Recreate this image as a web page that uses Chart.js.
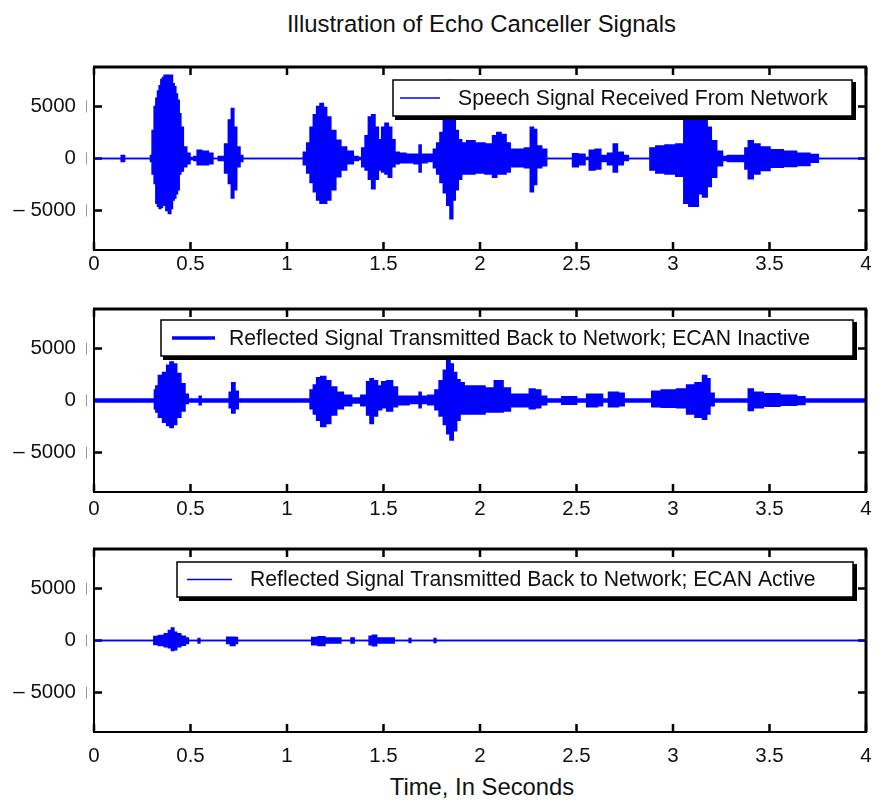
<!DOCTYPE html>
<html>
<head>
<meta charset="utf-8">
<script src="https://cdn.jsdelivr.net/npm/chart.js"></script>
<style>
  body { margin: 0; background: #fff; width: 882px; height: 804px; position: relative; overflow: hidden; font-family: "Liberation Sans", Arial, sans-serif; color: #111; }
  .panel { position: absolute; left: 0; width: 882px; height: 225px; }
  #title { position: absolute; top: 12px; left: 0; width: 963px; text-align: center; font-size: 23.9px; line-height: 23px; }
  #xlabel { position: absolute; top: 775px; left: 0; width: 964px; text-align: center; font-size: 23.8px; line-height: 23px; }
</style>
</head>
<body>
<div id="title">Illustration of Echo Canceller Signals</div>
<div class="panel" style="top:57px"><canvas id="c1" width="882" height="225"></canvas></div>
<div class="panel" style="top:299px"><canvas id="c2" width="882" height="225"></canvas></div>
<div class="panel" style="top:539px"><canvas id="c3" width="882" height="225"></canvas></div>
<div id="xlabel">Time, In Seconds</div>
<script>
const BLUE = "#0000ff";
const yTicks = [-5000, 0, 5000];

// speech signal received from network (envelope, seconds / amplitude)
const times1 = [0, 0.13, 0.152, 0.165, 0.29, 0.295, 0.307, 0.316, 0.325, 0.333, 0.342, 0.351, 0.359, 0.368, 0.377, 0.394, 0.402, 0.411, 0.42, 0.428, 0.437, 0.446, 0.454, 0.472, 0.489, 0.506, 0.528, 0.541, 0.575, 0.61, 0.622, 0.666, 0.687, 0.705, 0.718, 0.731, 0.748, 0.765, 0.777, 1.076, 1.093, 1.111, 1.128, 1.145, 1.162, 1.18, 1.197, 1.214, 1.24, 1.266, 1.292, 1.326, 1.361, 1.378, 1.396, 1.413, 1.43, 1.447, 1.465, 1.482, 1.499, 1.516, 1.534, 1.551, 1.568, 1.594, 1.637, 1.68, 1.689, 1.701, 1.75, 1.767, 1.784, 1.801, 1.819, 1.836, 1.853, 1.865, 1.879, 1.896, 1.914, 1.948, 2.0, 2.052, 2.078, 2.096, 2.122, 2.148, 2.165, 2.209, 2.252, 2.269, 2.285, 2.302, 2.337, 2.354, 2.475, 2.484, 2.535, 2.553, 2.579, 2.613, 2.639, 2.682, 2.699, 2.725, 2.76, 2.777, 2.872, 2.889, 2.933, 2.984, 3.045, 3.067, 3.097, 3.122, 3.14, 3.166, 3.188, 3.209, 3.244, 3.269, 3.295, 3.364, 3.381, 3.399, 3.433, 3.468, 3.537, 3.606, 3.675, 3.744, 3.762, 4];
const upper1 = [0, 0, 300, 0, 0, 300, 2700, 5000, 5800, 6500, 7000, 7600, 7800, 8000, 8000, 8000, 8000, 7200, 6900, 6200, 5600, 4300, 3000, 1100, 500, 100, 200, 800, 700, 500, 0, 200, 1400, 3700, 4800, 3000, 1100, 300, 0, 0, 600, 1500, 3000, 4200, 5000, 5300, 4900, 4000, 2700, 1760, 1100, 700, 200, 100, 1000, 2200, 4000, 4200, 3000, 1800, 3000, 3400, 3000, 1800, 600, 500, 400, 400, 1300, 400, 400, 900, 1500, 2500, 4500, 7500, 7500, 5000, 2700, 1800, 1500, 1700, 1500, 1400, 2200, 2500, 2300, 1500, 900, 900, 1000, 3000, 2800, 1200, 900, 0, 0, 450, 400, 100, 800, 900, 300, 500, 1400, 600, 300, 0, 0, 1000, 1200, 1300, 1400, 6000, 6500, 6000, 5000, 5500, 3000, 1700, 700, 200, 300, 300, 1000, 1700, 1400, 1100, 830, 700, 500, 380, 0, 0];
const lower1 = [0, 0, -300, 0, 0, -300, -1500, -2400, -4300, -4600, -4800, -4700, -4300, -4500, -5000, -5300, -4800, -4000, -3800, -3400, -3000, -1500, -1200, -800, -500, -100, -200, -600, -600, -500, 0, -200, -1400, -2400, -3800, -3000, -800, -300, 0, 0, -600, -1400, -2300, -3200, -4000, -4300, -4300, -4000, -3000, -1760, -1100, -500, -200, -100, -800, -1100, -2000, -2900, -2000, -1100, -1300, -1500, -1800, -800, -500, -400, -400, -500, -1300, -400, -300, -900, -1500, -2300, -3300, -4500, -5800, -4000, -3000, -2000, -1500, -1500, -1400, -1500, -1800, -1500, -1500, -1300, -800, -800, -900, -3200, -2500, -900, -700, 0, 0, -800, -600, -100, -1100, -1000, -300, -600, -1300, -600, -200, 0, 0, -1100, -1400, -1500, -1700, -4300, -4600, -4600, -3400, -3700, -2700, -1800, -700, -200, -300, -300, -1000, -1950, -1500, -1150, -830, -770, -670, -350, 0, 0];

// reflected signal, echo canceller inactive
const times2 = [0, 0.31, 0.316, 0.325, 0.342, 0.368, 0.385, 0.402, 0.42, 0.437, 0.463, 0.48, 0.497, 0.54, 0.55, 0.56, 0.696, 0.705, 0.722, 0.739, 0.756, 1.111, 1.128, 1.145, 1.162, 1.188, 1.214, 1.24, 1.275, 1.309, 1.361, 1.404, 1.421, 1.439, 1.456, 1.482, 1.499, 1.534, 1.56, 1.585, 1.68, 1.689, 1.701, 1.758, 1.775, 1.801, 1.819, 1.836, 1.853, 1.87, 1.888, 1.905, 1.931, 2.0, 2.052, 2.096, 2.143, 2.172, 2.242, 2.269, 2.302, 2.328, 2.363, 2.484, 2.518, 2.587, 2.631, 2.639, 2.692, 2.743, 2.751, 2.886, 2.894, 2.984, 3.053, 3.088, 3.14, 3.166, 3.183, 3.2, 3.226, 3.381, 3.399, 3.433, 3.502, 3.606, 3.675, 3.692, 4];
const upper2 = [150, 150, 1000, 1400, 2400, 2700, 3400, 3700, 3500, 2600, 1600, 600, 150, 150, 400, 150, 150, 800, 1700, 900, 150, 150, 1000, 1500, 2200, 2300, 1900, 1300, 800, 500, 250, 500, 1800, 2100, 1900, 1400, 1800, 1900, 1300, 400, 400, 800, 400, 500, 1000, 1900, 2900, 3900, 3500, 2700, 2000, 1700, 1400, 1400, 1200, 1900, 1200, 600, 600, 1100, 1000, 400, 150, 350, 150, 600, 600, 150, 800, 700, 150, 150, 900, 1000, 1100, 1500, 1700, 2400, 2100, 700, 150, 150, 1100, 800, 650, 500, 350, 150, 150];
const lower2 = [-150, -150, -800, -1100, -1600, -2100, -2400, -2600, -2300, -1600, -1000, -300, -150, -150, -400, -150, -150, -700, -1200, -800, -150, -150, -800, -1300, -1900, -2500, -2200, -1400, -800, -500, -250, -500, -1400, -2200, -1500, -900, -700, -1000, -600, -400, -300, -700, -300, -400, -900, -1500, -2300, -3200, -3800, -2900, -1900, -1300, -1300, -1300, -1100, -1100, -1000, -600, -600, -800, -700, -400, -150, -350, -150, -600, -500, -150, -600, -500, -150, -150, -600, -650, -700, -1300, -1600, -1800, -1300, -500, -150, -150, -950, -700, -550, -450, -380, -150, -150];

// reflected signal, echo canceller active
const times3 = [0, 0.304, 0.316, 0.351, 0.377, 0.394, 0.408, 0.42, 0.437, 0.463, 0.484, 0.494, 0.535, 0.544, 0.553, 0.684, 0.691, 0.722, 0.739, 0.748, 1.123, 1.133, 1.188, 1.205, 1.275, 1.283, 1.323, 1.34, 1.356, 1.421, 1.43, 1.456, 1.473, 1.551, 1.56, 1.629, 1.637, 1.646, 1.758, 1.767, 1.775, 4];
const upper3 = [0, 0, 380, 480, 640, 960, 1200, 800, 640, 400, 250, 0, 0, 200, 0, 0, 320, 320, 300, 0, 0, 300, 350, 250, 250, 0, 0, 250, 0, 0, 400, 500, 250, 250, 0, 0, 200, 0, 0, 200, 0, 0];
const lower3 = [0, 0, -380, -480, -600, -700, -960, -900, -600, -450, -300, 0, 0, -250, 0, 0, -300, -480, -300, 0, 0, -400, -480, -250, -250, 0, 0, -250, 0, 0, -400, -500, -250, -250, 0, 0, -200, 0, 0, -200, 0, 0];

const labels = [
  "Speech Signal Received From Network",
  "Reflected Signal Transmitted Back to Network; ECAN Inactive",
  "Reflected Signal Transmitted Back to Network; ECAN Active"
];

// legend boxes in canvas pixels
const legendBoxes = [
  { x0: 393, y0: 23, x1: 852, y1: 59, l0: 400, l1: 440, lw: 1.5, tx: 458 },
  { x0: 161, y0: 21, x1: 853, y1: 57, l0: 172, l1: 215, lw: 3.5, tx: 229 },
  { x0: 177, y0: 23, x1: 853, y1: 58, l0: 187, l1: 232, lw: 1.5, tx: 250 }
];
const xPads = [2, 5, 12];

const tickFont = { family: "Liberation Sans", size: 20.5 };

const frame = {
  id: "frame",
  beforeDatasetsDraw(chart) {
    const { ctx, chartArea: a, scales } = chart;
    ctx.save();
    ctx.strokeStyle = "#000";
    ctx.lineWidth = 2.5;
    ctx.beginPath();
    scales.x.ticks.forEach(t => {
      const px = scales.x.getPixelForValue(t.value);
      ctx.moveTo(px, a.bottom); ctx.lineTo(px, a.bottom - 8);
      ctx.moveTo(px, a.top); ctx.lineTo(px, a.top + 8);
    });
    scales.y.ticks.forEach(t => {
      const py = scales.y.getPixelForValue(t.value);
      ctx.moveTo(a.left, py); ctx.lineTo(a.left + 8, py);
      ctx.moveTo(a.right, py); ctx.lineTo(a.right - 8, py);
    });
    ctx.stroke();
    // light marks next to the y labels
    ctx.strokeStyle = "#999";
    ctx.lineWidth = 1;
    ctx.beginPath();
    scales.y.ticks.forEach(t => {
      const py = scales.y.getPixelForValue(t.value);
      ctx.moveTo(86.5, py - 6); ctx.lineTo(86.5, py + 6);
    });
    ctx.stroke();
    ctx.restore();
  },
  afterDatasetsDraw(chart, args, opts) {
    const { ctx, chartArea: a } = chart;
    ctx.save();
    ctx.strokeStyle = "#000";
    ctx.lineWidth = 2;
    ctx.strokeRect(a.left, a.top, a.right - a.left, a.bottom - a.top);
    ctx.lineWidth = 3;
    ctx.beginPath();
    ctx.moveTo(a.left - 1, a.top); ctx.lineTo(a.right + 1, a.top);
    ctx.moveTo(a.right, a.top); ctx.lineTo(a.right, a.bottom);
    ctx.stroke();

    const b = opts.box;
    ctx.fillStyle = "#000";
    ctx.fillRect(b.x0 + 2, b.y0 + 2, b.x1 - b.x0 + 2, b.y1 - b.y0 + 2);
    ctx.fillStyle = "#fff";
    ctx.fillRect(b.x0, b.y0, b.x1 - b.x0, b.y1 - b.y0);
    ctx.lineWidth = 1.5;
    ctx.strokeRect(b.x0, b.y0, b.x1 - b.x0, b.y1 - b.y0);
    const cy = (b.y0 + b.y1) / 2;
    ctx.strokeStyle = BLUE;
    ctx.lineWidth = b.lw;
    ctx.beginPath();
    ctx.moveTo(b.l0, cy); ctx.lineTo(b.l1, cy);
    ctx.stroke();
    ctx.fillStyle = "#111";
    ctx.font = "21.2px 'Liberation Sans'";
    ctx.textBaseline = "middle";
    ctx.fillText(chart.data.datasets[0].label, b.tx, cy + 1);
    ctx.restore();
  }
};

function makeChart(id, label, times, upper, lower, box, xPad) {
  const up = times.map((t, i) => ({ x: t, y: upper[i] }));
  const lo = times.map((t, i) => ({ x: t, y: lower[i] }));
  return new Chart(document.getElementById(id).getContext("2d"), {
    type: "line",
    data: {
      datasets: [
        { label: label, data: up, borderColor: BLUE, backgroundColor: BLUE, borderWidth: 1.5, pointRadius: 0, stepped: "middle", fill: "+1" },
        { label: "lower", data: lo, borderColor: BLUE, borderWidth: 1.5, pointRadius: 0, stepped: "middle", fill: false }
      ]
    },
    options: {
      responsive: false,
      animation: false,
      layout: { padding: { top: 10, right: 16, left: 0, bottom: 0 } },
      plugins: { legend: { display: false }, tooltip: { enabled: false }, frame: { box: box } },
      scales: {
        x: {
          type: "linear", min: 0, max: 4,
          ticks: { stepSize: 0.5, font: tickFont, color: "#111", padding: xPad, maxRotation: 0, callback: v => String(+v) },
          grid: { display: false, drawTicks: false },
          border: { display: false },
          afterFit(s) { s.height = 32; s.paddingLeft = 0; s.paddingRight = 0; }
        },
        y: {
          min: -8800, max: 8800,
          afterBuildTicks(s) { s.ticks = yTicks.map(v => ({ value: v })); },
          ticks: { font: tickFont, color: "#111", padding: 18, callback: v => v < 0 ? "\u2013 " + Math.abs(v) : String(v) },
          grid: { display: false, drawTicks: false },
          border: { display: false },
          afterFit(s) { s.width = 94; s.paddingTop = 0; s.paddingBottom = 0; }
        }
      }
    },
    plugins: [frame]
  });
}

makeChart("c1", labels[0], times1, upper1, lower1, legendBoxes[0], xPads[0]);
makeChart("c2", labels[1], times2, upper2, lower2, legendBoxes[1], xPads[1]);
makeChart("c3", labels[2], times3, upper3, lower3, legendBoxes[2], xPads[2]);
</script>
</body>
</html>
